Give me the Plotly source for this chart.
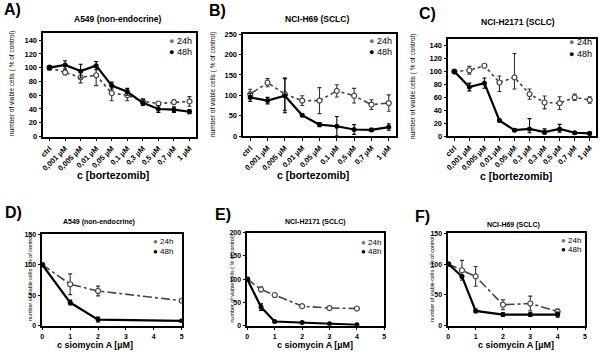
import plotly.graph_objects as go

# ---------------- data ----------------
cats_A = ["ctrl", "0,001 µM", "0,005 µM", "0,01 µM", "0,05 µM", "0,1 µM", "0,3 µM", "0,5 µM", "0,7 µM", "1 µM"]
A_24 = [100, 93, 86, 89, 63, 60, 51, 48, 50, 51]
A_24_err = [3, 3, 8, 15, 11, 8, 4, 2, 3, 7]
A_48 = [100, 104, 95, 103, 74, 65, 49, 40, 39, 36]
A_48_err = [3, 6, 10, 6, 5, 5, 4, 5, 4, 3]

cats_B = ["ctrl", "0,001 µM", "0,005 µM", "0,01 µM", "0,05 µM", "0,1 µM", "0,5 µM", "0,7 µM", "1 µM"]
B_24 = [103, 131, 103, 87, 87, 111, 99, 77, 81]
B_24_err = [12, 10, 40, 12, 32, 15, 18, 12, 20]
B_48 = [95, 87, 99, 51, 28, 24, 16, 15, 22]
B_48_err = [10, 8, 42, 3, 5, 24, 12, 4, 8]

cats_C = cats_A
C_24 = [100, 102, 109, 83, 91, 65, 52, 51, 60, 56]
C_24_up = [2, 6, 2, 10, 37, 8, 10, 10, 5, 5]
C_24_dn = [2, 6, 2, 14, 18, 8, 10, 10, 5, 5]
C_48 = [100, 76, 82, 24, 9, 11, 6, 11, 5, 4]
C_48_up = [2, 6, 8, 2, 2, 16, 5, 7, 2, 2]
C_48_dn = [2, 6, 8, 2, 2, 6, 3, 5, 2, 2]

D_x = [0, 1, 2, 5]
D_24 = [100, 68, 57, 41]
D_24_err = [2, 17, 8, 2]
D_48 = [100, 38, 10, 8]
D_48_err = [2, 4, 4, 2]

E_x = [0, 0.5, 1, 2, 3, 4]
E_24 = [100, 78, 66, 42, 38, 37]
E_24_err = [2, 5, 3, 3, 2, 2]
E_48 = [100, 40, 9, 7, 4, 2]
E_48_err = [2, 7, 2, 2, 1, 1]

F_x = [0, 0.5, 1, 2, 3, 4]
F_24 = [100, 90, 80, 34, 36, 23]
F_24_err = [2, 16, 16, 8, 12, 4]
F_48 = [100, 80, 24, 18, 18, 18]
F_48_err = [2, 2, 3, 3, 3, 4]

titles = ["A549 (non-endocrine)", "NCI-H69 (SCLC)", "NCI-H2171 (SCLC)",
          "A549 (non-endocrine)", "NCI-H2171 (SCLC)", "NCI-H69 (SCLC)"]
letters = ["A)", "B)", "C)", "D)", "E)", "F)"]

# ---------------- layout helpers ----------------
W, H = 600, 354
FONT = "Liberation Sans, Arial, sans-serif"

def px_x(v):
    return v / W

def px_y(v):
    return 1 - v / H

boxes = [
    (43.3, 195.7, 33.3, 136.5),
    (243.3, 395.7, 34.3, 136.0),
    (448.3, 595.7, 39.3, 136.0),
    (42.3, 181.7, 234.3, 325.7),
    (247.3, 384.3, 232.7, 325.7),
    (448.3, 585.0, 233.3, 325.7),
]

fig = go.Figure()

def add_pair(idx, x, y24, e24p, e24m, y48, e48p, e48m, dash24):
    ax = "" if idx == 1 else str(idx)
    fig.add_trace(go.Scatter(
        x=x, y=y24, mode="lines+markers", xaxis="x" + ax, yaxis="y" + ax,
        line=dict(color="#444444", width=1.6, dash=dash24),
        marker=dict(symbol="circle", size=5, color="white", line=dict(color="#444444", width=1.2)),
        error_y=dict(type="data", array=e24p, arrayminus=e24m, color="#333333", thickness=1.1, width=2),
        showlegend=False, name="24h"))
    fig.add_trace(go.Scatter(
        x=x, y=y48, mode="lines+markers", xaxis="x" + ax, yaxis="y" + ax,
        line=dict(color="black", width=2.2),
        marker=dict(symbol="circle", size=5, color="black"),
        error_y=dict(type="data", array=e48p, arrayminus=e48m, color="black", thickness=1.1, width=2),
        showlegend=False, name="48h"))

add_pair(1, cats_A, A_24, A_24_err, A_24_err, A_48, A_48_err, A_48_err, "dot")
add_pair(2, cats_B, B_24, B_24_err, B_24_err, B_48, B_48_err, B_48_err, "dashdot")
add_pair(3, cats_C, C_24, C_24_up, C_24_dn, C_48, C_48_up, C_48_dn, "dot")
add_pair(4, D_x, D_24, D_24_err, D_24_err, D_48, D_48_err, D_48_err, "dashdot")
add_pair(5, E_x, E_24, E_24_err, E_24_err, E_48, E_48_err, E_48_err, "dashdot")
add_pair(6, F_x, F_24, F_24_err, F_24_err, F_48, F_48_err, F_48_err, "dashdot")

layout = dict(
    width=W, height=H, margin=dict(l=0, r=0, t=0, b=0, autoexpand=False),
    paper_bgcolor="white", plot_bgcolor="white",
    font=dict(family=FONT, color="black"),
    showlegend=False,
)

yranges = [[0, 150], [0, 250], [0, 150], [0, 150], [0, 200], [0, 150]]
ytickvals = [list(range(0, 141, 20)), list(range(0, 251, 50)), list(range(0, 141, 20)),
             [0, 50, 100, 150], [0, 50, 100, 150, 200], [0, 50, 100, 150]]
xranges = [[-0.4, 9.4], [-0.4, 8.4], [-0.4, 9.4], [0, 5], [0, 5], [0, 5]]

for i, (l, r, t, b) in enumerate(boxes):
    n = i + 1
    key = "" if n == 1 else str(n)
    common = dict(showline=True, linecolor="black", linewidth=1.5, mirror=True,
                  ticks="outside", ticklen=3, tickwidth=1, tickcolor="black",
                  showgrid=False, zeroline=False, automargin=False, fixedrange=True)
    xa = dict(domain=[px_x(l), px_x(r)], anchor="y" + key, range=xranges[i], **common)
    if i < 3:
        xa.update(type="category", tickangle=-45,
                  tickfont=dict(family=FONT, size=7.5, weight="bold"))
    else:
        xa.update(tickvals=[0, 1, 2, 3, 4, 5],
                  tickfont=dict(family=FONT, size=7, weight="bold"))
    ya = dict(domain=[px_y(b), px_y(t)], anchor="x" + key, range=yranges[i],
              tickvals=ytickvals[i],
              tickfont=dict(family=FONT, size=7.5 if i < 3 else 7, weight="bold"), **common)
    layout["xaxis" + key] = xa
    layout["yaxis" + key] = ya

fig.update_layout(**layout)

ann = []
def A(x, y, text, size, angle=0, xanchor="center", yanchor="middle"):
    ann.append(dict(x=px_x(x), y=px_y(y), xref="paper", yref="paper", text=text,
                    showarrow=False, textangle=angle, xanchor=xanchor, yanchor=yanchor,
                    font=dict(family=FONT, size=size, color="black")))

letter_pos = [(2, 9), (207, 11), (417, 13), (3, 213), (213, 214), (413, 216)]
for (x, y), t in zip(letter_pos, letters):
    A(x, y, "<b>" + t + "</b>", 16, xanchor="left")

title_pos = [(118, 19.5, 8.5), (317, 19.5, 8.5), (518, 22, 8.5),
             (99, 222.5, 7), (315, 222.5, 7), (513, 224.5, 7)]
for (x, y, s), t in zip(title_pos, titles):
    A(x, y, "<b>" + t + "</b>", s)

A(113, 175, "<b>c [bortezomib]</b>", 10.5)
A(313, 175, "<b>c [bortezomib]</b>", 10.5)
A(516, 176, "<b>c [bortezomib]</b>", 10.5)
A(95, 344.5, "<b>c siomycin A [µM]</b>", 9)
A(315, 344.5, "<b>c siomycin A [µM]</b>", 9)
A(516, 345, "<b>c siomycin A [µM]</b>", 9)

ytitle = "number of viable cells ( % of control)"
A(12, 84, ytitle, 6.5, angle=-90)
A(213, 85, ytitle, 6.5, angle=-90)
A(413, 87, ytitle, 6.5, angle=-90)
A(30, 278, ytitle, 5.4, angle=-90)
A(231.5, 279, ytitle, 5.4, angle=-90)
A(432, 279, ytitle, 5.4, angle=-90)

leg_pos = [(194, 41, 51.5, 9), (394, 41, 52, 9), (594, 42.5, 54, 9),
           (175, 241, 251, 8), (383, 242, 251, 8), (583, 240, 249, 8)]
for (xr, y1, y2, s) in leg_pos:
    A(xr, y1, "<span style='color:#777777'>●</span> 24h", s, xanchor="right")
    A(xr, y2, "● 48h", s, xanchor="right")

fig.update_layout(annotations=ann)
fig.write_html("out.html", config={"displayModeBar": False},
               post_script="document.body.style.margin='0';document.body.style.overflow='hidden';")
